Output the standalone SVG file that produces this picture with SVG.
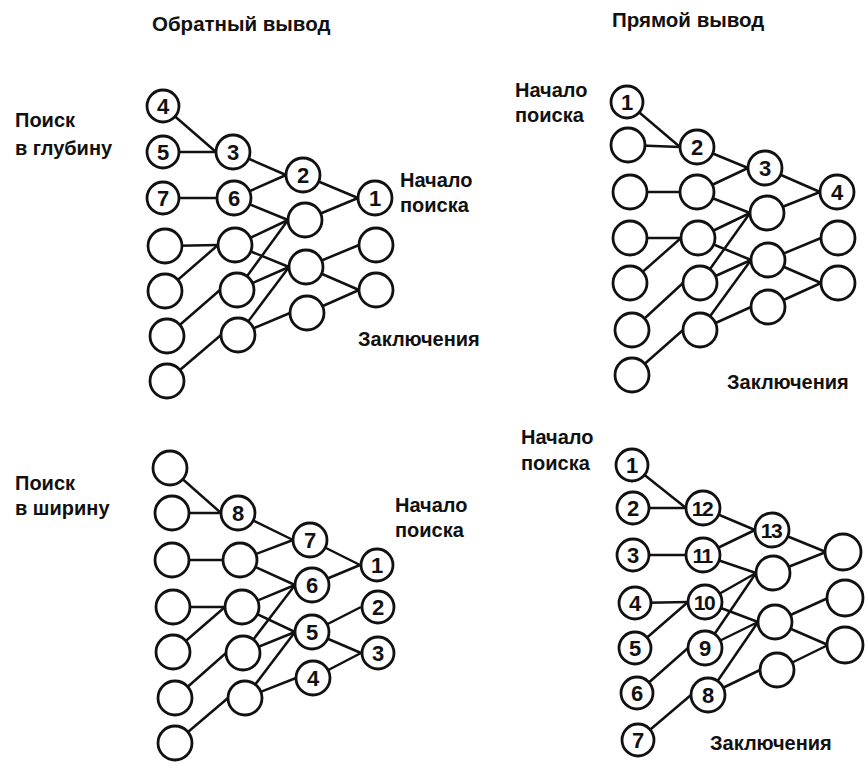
<svg xmlns="http://www.w3.org/2000/svg" width="865" height="764" viewBox="0 0 865 764">
<style>
.bg{fill:#fff}
.n{fill:#fff;stroke:#111;stroke-width:2.8}
.e{stroke:#111;stroke-width:2.5;fill:none}
.num{font-family:"Liberation Sans",Arial,sans-serif;font-weight:bold;font-size:22px;fill:#111;text-anchor:middle}
.num2{font-family:"Liberation Sans",Arial,sans-serif;font-weight:bold;font-size:21px;fill:#111;text-anchor:middle;letter-spacing:-1.5px}
.lbl{font-family:"Liberation Sans",Arial,sans-serif;font-weight:bold;font-size:20px;fill:#111}
.ttl{font-family:"Liberation Sans",Arial,sans-serif;font-weight:bold;font-size:20.5px;fill:#111}
</style>
<rect class="bg" x="0" y="0" width="865" height="764"/>

<g id="labels">
<text class="ttl" x="152" y="31">Обратный вывод</text>
<text class="ttl" x="612" y="27">Прямой вывод</text>
<text class="lbl" x="15" y="127">Поиск</text>
<text class="lbl" x="15" y="155">в глубину</text>
<text class="lbl" x="400" y="187">Начало</text>
<text class="lbl" x="400" y="212">поиска</text>
<text class="lbl" x="358" y="346">Заключения</text>
<text class="lbl" x="515" y="97">Начало</text>
<text class="lbl" x="515" y="122">поиска</text>
<text class="lbl" x="727" y="389">Заключения</text>
<text class="lbl" x="15" y="490">Поиск</text>
<text class="lbl" x="15" y="515">в ширину</text>
<text class="lbl" x="395" y="512">Начало</text>
<text class="lbl" x="395" y="537">поиска</text>
<text class="lbl" x="521" y="444">Начало</text>
<text class="lbl" x="521" y="470">поиска</text>
<text class="lbl" x="710" y="750">Заключения</text>
</g>

<g id="connectors">
<!-- top-left -->
<line class="e" x1="163" y1="106" x2="216" y2="152"/>
<line class="e" x1="163" y1="152" x2="216" y2="152"/>
<line class="e" x1="163" y1="198" x2="217" y2="198"/>
<line class="e" x1="165" y1="246" x2="218" y2="245"/>
<line class="e" x1="165" y1="291" x2="218" y2="245"/>
<line class="e" x1="167" y1="336" x2="220" y2="290"/>
<line class="e" x1="167" y1="381" x2="221" y2="335"/>
<line class="e" x1="233" y1="152" x2="286" y2="175"/>
<line class="e" x1="234" y1="198" x2="286" y2="175"/>
<line class="e" x1="234" y1="198" x2="288" y2="220"/>
<line class="e" x1="235" y1="245" x2="288" y2="220"/>
<line class="e" x1="235" y1="245" x2="289" y2="267"/>
<line class="e" x1="237" y1="290" x2="288" y2="220"/>
<line class="e" x1="237" y1="290" x2="289" y2="267"/>
<line class="e" x1="238" y1="335" x2="289" y2="267"/>
<line class="e" x1="238" y1="335" x2="290" y2="313"/>
<line class="e" x1="303" y1="175" x2="358" y2="198"/>
<line class="e" x1="305" y1="220" x2="358" y2="198"/>
<line class="e" x1="306" y1="267" x2="359" y2="245"/>
<line class="e" x1="306" y1="267" x2="359" y2="290"/>
<line class="e" x1="307" y1="313" x2="359" y2="290"/>
<!-- top-right -->
<line class="e" x1="627" y1="102" x2="680" y2="147"/>
<line class="e" x1="628" y1="145" x2="680" y2="147"/>
<line class="e" x1="630" y1="192" x2="680" y2="192"/>
<line class="e" x1="630" y1="238" x2="681" y2="238"/>
<line class="e" x1="630" y1="283" x2="681" y2="238"/>
<line class="e" x1="632" y1="330" x2="683" y2="283"/>
<line class="e" x1="632" y1="375" x2="683" y2="330"/>
<line class="e" x1="697" y1="147" x2="748" y2="168"/>
<line class="e" x1="697" y1="192" x2="748" y2="168"/>
<line class="e" x1="697" y1="192" x2="750" y2="213"/>
<line class="e" x1="698" y1="238" x2="750" y2="213"/>
<line class="e" x1="698" y1="238" x2="751" y2="260"/>
<line class="e" x1="700" y1="283" x2="750" y2="213"/>
<line class="e" x1="700" y1="283" x2="751" y2="260"/>
<line class="e" x1="700" y1="330" x2="751" y2="260"/>
<line class="e" x1="700" y1="330" x2="751" y2="307"/>
<line class="e" x1="765" y1="168" x2="820" y2="192"/>
<line class="e" x1="767" y1="213" x2="820" y2="192"/>
<line class="e" x1="768" y1="260" x2="821" y2="238"/>
<line class="e" x1="768" y1="260" x2="821" y2="283"/>
<line class="e" x1="768" y1="307" x2="821" y2="283"/>
<!-- bottom-left -->
<line class="e" x1="170" y1="468" x2="221" y2="513"/>
<line class="e" x1="172" y1="513" x2="221" y2="513"/>
<line class="e" x1="172" y1="560" x2="223" y2="560"/>
<line class="e" x1="173" y1="607" x2="225" y2="607"/>
<line class="e" x1="173" y1="652" x2="225" y2="607"/>
<line class="e" x1="175" y1="698" x2="226" y2="653"/>
<line class="e" x1="175" y1="743" x2="228" y2="698"/>
<line class="e" x1="238" y1="513" x2="293" y2="540"/>
<line class="e" x1="240" y1="560" x2="293" y2="540"/>
<line class="e" x1="240" y1="560" x2="295" y2="585"/>
<line class="e" x1="242" y1="607" x2="295" y2="585"/>
<line class="e" x1="242" y1="607" x2="295" y2="632"/>
<line class="e" x1="243" y1="653" x2="295" y2="585"/>
<line class="e" x1="243" y1="653" x2="295" y2="632"/>
<line class="e" x1="245" y1="698" x2="295" y2="632"/>
<line class="e" x1="245" y1="698" x2="296" y2="678"/>
<line class="e" x1="310" y1="540" x2="360" y2="565"/>
<line class="e" x1="312" y1="585" x2="360" y2="565"/>
<line class="e" x1="312" y1="632" x2="361" y2="607"/>
<line class="e" x1="312" y1="632" x2="361" y2="653"/>
<line class="e" x1="313" y1="678" x2="361" y2="653"/>
<!-- bottom-right -->
<line class="e" x1="632" y1="465" x2="686" y2="508"/>
<line class="e" x1="633" y1="508" x2="686" y2="508"/>
<line class="e" x1="633" y1="555" x2="686" y2="555"/>
<line class="e" x1="635" y1="603" x2="688" y2="602"/>
<line class="e" x1="635" y1="648" x2="688" y2="602"/>
<line class="e" x1="637" y1="693" x2="688" y2="648"/>
<line class="e" x1="638" y1="740" x2="691" y2="695"/>
<line class="e" x1="703" y1="508" x2="755" y2="530"/>
<line class="e" x1="703" y1="555" x2="755" y2="530"/>
<line class="e" x1="703" y1="555" x2="756" y2="573"/>
<line class="e" x1="705" y1="602" x2="756" y2="573"/>
<line class="e" x1="705" y1="602" x2="758" y2="622"/>
<line class="e" x1="705" y1="648" x2="756" y2="573"/>
<line class="e" x1="705" y1="648" x2="758" y2="622"/>
<line class="e" x1="708" y1="695" x2="758" y2="622"/>
<line class="e" x1="708" y1="695" x2="760" y2="670"/>
<line class="e" x1="772" y1="530" x2="826" y2="552"/>
<line class="e" x1="773" y1="573" x2="826" y2="552"/>
<line class="e" x1="775" y1="622" x2="828" y2="598"/>
<line class="e" x1="775" y1="622" x2="828" y2="645"/>
<line class="e" x1="777" y1="670" x2="828" y2="645"/>
</g>

<!-- top-left nodes -->
<g id="tl-a1"><circle class="n" cx="163" cy="106" r="16"/><text class="num" x="163" y="114">4</text></g>
<g id="tl-a2"><circle class="n" cx="163" cy="152" r="16"/><text class="num" x="163" y="160">5</text></g>
<g id="tl-a3"><circle class="n" cx="163" cy="198" r="16"/><text class="num" x="163" y="206">7</text></g>
<g id="tl-a4"><circle class="n" cx="165" cy="246" r="17"/></g>
<g id="tl-a5"><circle class="n" cx="165" cy="291" r="17"/></g>
<g id="tl-a6"><circle class="n" cx="167" cy="336" r="17"/></g>
<g id="tl-a7"><circle class="n" cx="167" cy="381" r="17"/></g>
<g id="tl-b1"><circle class="n" cx="233" cy="152" r="17"/><text class="num" x="233" y="160">3</text></g>
<g id="tl-b2"><circle class="n" cx="234" cy="198" r="17"/><text class="num" x="234" y="206">6</text></g>
<g id="tl-b3"><circle class="n" cx="235" cy="245" r="17"/></g>
<g id="tl-b4"><circle class="n" cx="237" cy="290" r="17"/></g>
<g id="tl-b5"><circle class="n" cx="238" cy="335" r="17"/></g>
<g id="tl-c1"><circle class="n" cx="303" cy="175" r="17"/><text class="num" x="303" y="183">2</text></g>
<g id="tl-c2"><circle class="n" cx="305" cy="220" r="17"/></g>
<g id="tl-c3"><circle class="n" cx="306" cy="267" r="17"/></g>
<g id="tl-c4"><circle class="n" cx="307" cy="313" r="17"/></g>
<g id="tl-d1"><circle class="n" cx="375" cy="198" r="17"/><text class="num" x="375" y="206">1</text></g>
<g id="tl-d2"><circle class="n" cx="376" cy="245" r="17"/></g>
<g id="tl-d3"><circle class="n" cx="376" cy="290" r="17"/></g>

<!-- top-right nodes -->
<g id="tr-a1"><circle class="n" cx="627" cy="102" r="16"/><text class="num" x="627" y="110">1</text></g>
<g id="tr-a2"><circle class="n" cx="628" cy="145" r="17"/></g>
<g id="tr-a3"><circle class="n" cx="630" cy="192" r="17"/></g>
<g id="tr-a4"><circle class="n" cx="630" cy="238" r="17"/></g>
<g id="tr-a5"><circle class="n" cx="630" cy="283" r="17"/></g>
<g id="tr-a6"><circle class="n" cx="632" cy="330" r="17"/></g>
<g id="tr-a7"><circle class="n" cx="632" cy="375" r="17"/></g>
<g id="tr-b1"><circle class="n" cx="697" cy="147" r="17"/><text class="num" x="697" y="155">2</text></g>
<g id="tr-b2"><circle class="n" cx="697" cy="192" r="17"/></g>
<g id="tr-b3"><circle class="n" cx="698" cy="238" r="17"/></g>
<g id="tr-b4"><circle class="n" cx="700" cy="283" r="17"/></g>
<g id="tr-b5"><circle class="n" cx="700" cy="330" r="17"/></g>
<g id="tr-c1"><circle class="n" cx="765" cy="168" r="17"/><text class="num" x="765" y="176">3</text></g>
<g id="tr-c2"><circle class="n" cx="767" cy="213" r="17"/></g>
<g id="tr-c3"><circle class="n" cx="768" cy="260" r="17"/></g>
<g id="tr-c4"><circle class="n" cx="768" cy="307" r="17"/></g>
<g id="tr-d1"><circle class="n" cx="837" cy="192" r="17"/><text class="num" x="837" y="200">4</text></g>
<g id="tr-d2"><circle class="n" cx="838" cy="238" r="17"/></g>
<g id="tr-d3"><circle class="n" cx="838" cy="283" r="17"/></g>

<!-- bottom-left nodes -->
<g id="bl-a1"><circle class="n" cx="170" cy="468" r="17"/></g>
<g id="bl-a2"><circle class="n" cx="172" cy="513" r="17"/></g>
<g id="bl-a3"><circle class="n" cx="172" cy="560" r="17"/></g>
<g id="bl-a4"><circle class="n" cx="173" cy="607" r="17"/></g>
<g id="bl-a5"><circle class="n" cx="173" cy="652" r="17"/></g>
<g id="bl-a6"><circle class="n" cx="175" cy="698" r="17"/></g>
<g id="bl-a7"><circle class="n" cx="175" cy="743" r="17"/></g>
<g id="bl-b1"><circle class="n" cx="238" cy="513" r="17"/><text class="num" x="238" y="521">8</text></g>
<g id="bl-b2"><circle class="n" cx="240" cy="560" r="17"/></g>
<g id="bl-b3"><circle class="n" cx="242" cy="607" r="17"/></g>
<g id="bl-b4"><circle class="n" cx="243" cy="653" r="17"/></g>
<g id="bl-b5"><circle class="n" cx="245" cy="698" r="17"/></g>
<g id="bl-c1"><circle class="n" cx="310" cy="540" r="17"/><text class="num" x="310" y="548">7</text></g>
<g id="bl-c2"><circle class="n" cx="312" cy="585" r="17"/><text class="num" x="312" y="593">6</text></g>
<g id="bl-c3"><circle class="n" cx="312" cy="632" r="17"/><text class="num" x="312" y="640">5</text></g>
<g id="bl-c4"><circle class="n" cx="313" cy="678" r="17"/><text class="num" x="313" y="686">4</text></g>
<g id="bl-d1"><circle class="n" cx="377" cy="565" r="16"/><text class="num" x="377" y="573">1</text></g>
<g id="bl-d2"><circle class="n" cx="378" cy="607" r="16"/><text class="num" x="378" y="615">2</text></g>
<g id="bl-d3"><circle class="n" cx="378" cy="653" r="16"/><text class="num" x="378" y="661">3</text></g>

<!-- bottom-right nodes -->
<g id="br-a1"><circle class="n" cx="632" cy="465" r="16"/><text class="num" x="632" y="473">1</text></g>
<g id="br-a2"><circle class="n" cx="633" cy="508" r="16"/><text class="num" x="633" y="516">2</text></g>
<g id="br-a3"><circle class="n" cx="633" cy="555" r="16"/><text class="num" x="633" y="563">3</text></g>
<g id="br-a4"><circle class="n" cx="635" cy="603" r="16"/><text class="num" x="635" y="611">4</text></g>
<g id="br-a5"><circle class="n" cx="635" cy="648" r="16"/><text class="num" x="635" y="656">5</text></g>
<g id="br-a6"><circle class="n" cx="637" cy="693" r="16"/><text class="num" x="637" y="701">6</text></g>
<g id="br-a7"><circle class="n" cx="638" cy="740" r="16"/><text class="num" x="638" y="748">7</text></g>
<g id="br-b1"><circle class="n" cx="703" cy="508" r="17"/><text class="num2" x="702" y="515.5">12</text></g>
<g id="br-b2"><circle class="n" cx="703" cy="555" r="17"/><text class="num2" x="702" y="562.5">11</text></g>
<g id="br-b3"><circle class="n" cx="705" cy="602" r="17"/><text class="num2" x="704" y="609.5">10</text></g>
<g id="br-b4"><circle class="n" cx="705" cy="648" r="17"/><text class="num" x="705" y="656">9</text></g>
<g id="br-b5"><circle class="n" cx="708" cy="695" r="17"/><text class="num" x="708" y="703">8</text></g>
<g id="br-c1"><circle class="n" cx="772" cy="530" r="17"/><text class="num2" x="771" y="537.5">13</text></g>
<g id="br-c2"><circle class="n" cx="773" cy="573" r="17"/></g>
<g id="br-c3"><circle class="n" cx="775" cy="622" r="17"/></g>
<g id="br-c4"><circle class="n" cx="777" cy="670" r="17"/></g>
<g id="br-d1"><circle class="n" cx="843" cy="552" r="18"/></g>
<g id="br-d2"><circle class="n" cx="845" cy="598" r="18"/></g>
<g id="br-d3"><circle class="n" cx="845" cy="645" r="18"/></g>
</svg>
